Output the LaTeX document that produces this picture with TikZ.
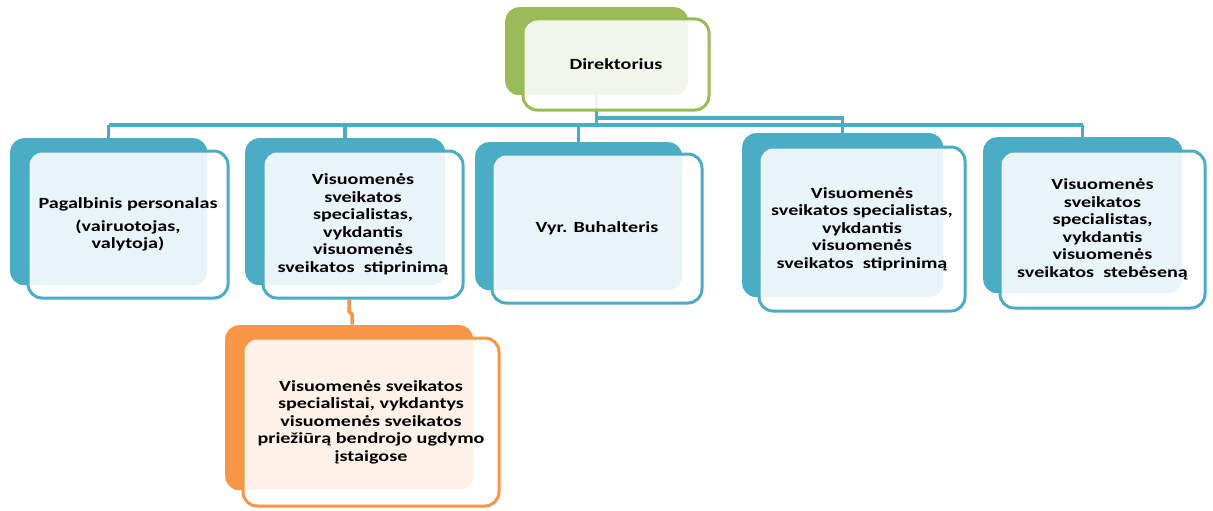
\documentclass[tikz,border=0pt]{standalone}
\usepackage{fontspec}
\setmainfont{Carlito}[FakeStretch=1.3]
\usetikzlibrary{backgrounds}

\definecolor{aqua}{HTML}{4BACC6}
\definecolor{leaf}{HTML}{9BBB59}
\definecolor{peach}{HTML}{F79646}

\tikzset{
  plate/.style={fill=#1, rounded corners=14pt, anchor=north west, inner sep=0pt},
  card/.style={draw=#1, line width=3pt, fill=white, fill opacity=0.88, text opacity=1,
    rounded corners=14pt, align=center, inner sep=0pt,
    font=\bfseries\fontsize{15.5}{17.5}\selectfont},
  link/.style={draw=aqua, line width=3.5pt},
}

\begin{document}
\begin{tikzpicture}[x=1pt,y=-1pt]
        \useasboundingbox (0,0) rectangle (1213,511);

        \node[plate=leaf, minimum width=183pt, minimum height=88pt] (dirback) at (505,7) {};
        \node[card=leaf, minimum width=186pt, minimum height=91pt] (dir) at (616,64.5) {Direktorius};

        \node[plate=aqua, minimum width=197pt, minimum height=147pt] (b1back) at (10,138) {};
        \node[card=aqua, minimum width=200pt, minimum height=147pt] (b1) at (128,224.5)
          {Pagalbinis personalas\\[5pt](vairuotojas,\\valytoja)};

        \node[plate=aqua, minimum width=200pt, minimum height=147pt] (b2back) at (245,138) {};
        \node[card=aqua, minimum width=200pt, minimum height=147pt] (b2) at (363,224.5)
          {Visuomenės\\sveikatos\\specialistas,\\vykdantis\\visuomenės\\sveikatos\ \ stiprinimą};

        \node[plate=aqua, minimum width=207pt, minimum height=148pt] (b3back) at (475,142) {};
        \node[card=aqua, minimum width=210pt, minimum height=149pt] (b3) at (597,228.5) {Vyr. Buhalteris};

        \node[plate=aqua, minimum width=201pt, minimum height=164pt] (b4back) at (742,133) {};
        \node[card=aqua, minimum width=206pt, minimum height=164pt] (b4) at (862,229)
          {Visuomenės\\sveikatos specialistas,\\vykdantis\\visuomenės\\sveikatos\ \ stiprinimą};

        \node[plate=aqua, minimum width=199pt, minimum height=156pt] (b5back) at (983,137) {};
        \node[card=aqua, minimum width=205pt, minimum height=157pt] (b5) at (1102.5,229.5)
          {Visuomenės\\sveikatos\\specialistas,\\vykdantis\\visuomenės\\sveikatos\ \ stebėseną};

        \node[plate=peach, minimum width=248pt, minimum height=165pt] (subback) at (225,325) {};
        \node[card=peach, minimum width=256pt, minimum height=168pt] (sub) at (371,422)
          {Visuomenės sveikatos\\specialistai, vykdantys\\visuomenės sveikatos\\priežiūrą bendrojo ugdymo\\įstaigose};

        \begin{pgfonlayer}{background}
          \coordinate (bus) at (0,125);
          \coordinate (bus2) at (0,118);
          \draw[link] (dirback.south) -- (dirback.south |- bus);
          \draw[link] (b1back.north |- bus) -- (b5back.north |- bus);
          \foreach \b in {b1back,b2back,b3back,b5back}
            \draw[link] (\b.north |- bus) -- (\b.north);
          \draw[link] (dirback.south |- bus2) -| (b4back.north);
          \draw[link, draw=peach] (b2.south -| subback.north) -- ++(0,12) -- ++(3,3) -- ++(0,10);
        \end{pgfonlayer}
      \end{tikzpicture}
\end{document}
